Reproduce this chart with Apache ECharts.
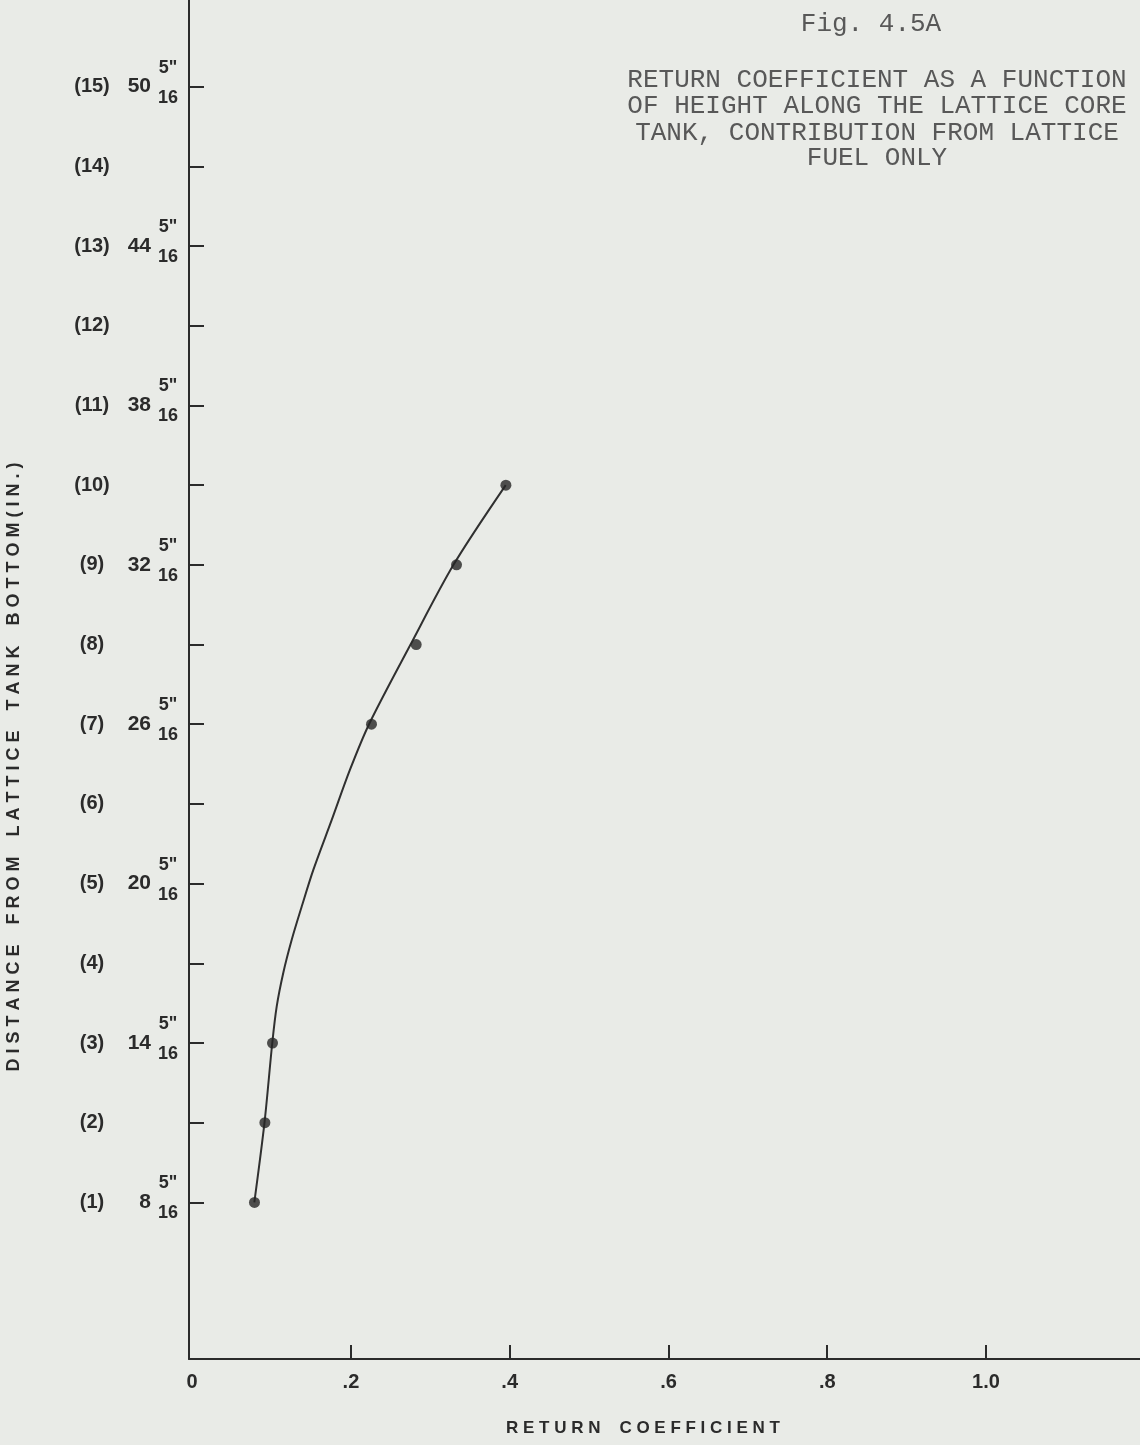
<!DOCTYPE html>
<html>
<head>
<meta charset="utf-8">
<script src="https://cdn.jsdelivr.net/npm/echarts@6/dist/echarts.min.js"></script>
<style>
html, body { margin: 0; padding: 0; background: #e9ebe7; }
#chart { width: 1140px; height: 1445px; }
</style>
</head>
<body>
<div id="chart"></div>
<script>
// ---- Tick values and labels ----
const levelHeights = [8.3125, 11.3125, 14.3125, 17.3125, 20.3125, 23.3125, 26.3125, 29.3125,
                      32.3125, 35.3125, 38.3125, 41.3125, 44.3125, 47.3125, 50.3125];
const levelLabels = ['(1)', '(2)', '(3)', '(4)', '(5)', '(6)', '(7)', '(8)',
                     '(9)', '(10)', '(11)', '(12)', '(13)', '(14)', '(15)'];
const wholeInchLabels = ['8', '', '14', '', '20', '', '26', '', '32', '', '38', '', '44', '', '50'];
const fractionNumerators = ['5"', '', '5"', '', '5"', '', '5"', '', '5"', '', '5"', '', '5"', '', '5"'];
const fractionDenominators = ['16', '', '16', '', '16', '', '16', '', '16', '', '16', '', '16', '', '16'];

const xTickValues = [0, 0.2, 0.4, 0.6, 0.8, 1.0];
const xTickLabels = ['0', '.2', '.4', '.6', '.8', '1.0'];

// ---- Measured points (height in inches, return coefficient) ----
const measuredHeight = [8.3125, 11.3125, 14.3125, 26.3125, 29.3125, 32.3125, 35.3125];
const measuredCoef   = [0.0785, 0.0916, 0.1012, 0.2259, 0.2822, 0.3330, 0.3952];

// ---- Hand-drawn fitted curve ----
const curveHeight = [8.3125, 11.3125, 14.3125, 15.69, 16.96, 18.20, 19.45, 20.83, 22.71,
                     24.60, 26.3125, 29.3125, 32.3125, 35.3125];
const curveCoef   = [0.0783, 0.0911, 0.1009, 0.1065, 0.1148, 0.1254, 0.1380, 0.1526, 0.1758,
                     0.1988, 0.2228, 0.2751, 0.3292, 0.3950];

const INK = '#2b2b2b';
const LABEL_FONT = 'Liberation Sans, Arial, sans-serif';
const TYPE_FONT = 'Liberation Mono, DejaVu Sans Mono, monospace';

function lookup(values, labels) {
  return function (v) {
    const i = values.findIndex(t => Math.abs(t - v) < 1e-6);
    return i < 0 ? '' : labels[i];
  };
}
const labelledHeights = levelHeights.filter((h, i) => wholeInchLabels[i] !== '');

const chart = echarts.init(document.getElementById('chart'), null, { renderer: 'canvas' });

const yCommon = { type: 'value', position: 'left', offset: 0, min: 2.418, max: 53.575, splitLine: { show: false } };

chart.setOption({
  backgroundColor: '#e9ebe7',
  animation: false,
  grid: { left: 189, right: 0, top: 0, bottom: 86, containLabel: false, outerBoundsMode: 'none' },
  xAxis: {
    type: 'value',
    min: -0.004,
    max: 1.194,
    axisLine: { show: true, onZero: false, lineStyle: { color: INK, width: 2 } },
    axisTick: {
      show: true, inside: true, length: 14,
      customValues: [0.2, 0.4, 0.6, 0.8, 1.0],
      lineStyle: { color: INK, width: 2 }
    },
    axisLabel: {
      customValues: xTickValues,
      formatter: lookup(xTickValues, xTickLabels),
      margin: 13,
      color: INK,
      fontSize: 20,
      fontWeight: 'bold',
      fontFamily: LABEL_FONT
    },
    splitLine: { show: false }
  },
  yAxis: [
    Object.assign({}, yCommon, {
      axisLine: { show: true, onZero: false, lineStyle: { color: INK, width: 2 } },
      axisTick: {
        show: true, inside: true, length: 15,
        customValues: levelHeights,
        lineStyle: { color: INK, width: 2 }
      },
      axisLabel: {
        customValues: levelHeights,
        formatter: lookup(levelHeights, levelLabels),
        align: 'center',
        margin: 97,
        color: INK,
        fontSize: 20,
        fontWeight: 'bold',
        fontFamily: LABEL_FONT
      }
    }),
    Object.assign({}, yCommon, {
      axisLine: { show: false, onZero: false },
      axisTick: { show: false },
      axisLabel: {
        customValues: labelledHeights,
        formatter: lookup(levelHeights, wholeInchLabels),
        align: 'right',
        margin: 38,
        color: INK,
        fontSize: 21,
        fontWeight: 'bold',
        fontFamily: LABEL_FONT
      }
    }),
    Object.assign({}, yCommon, {
      axisLine: { show: false, onZero: false },
      axisTick: { show: false },
      axisLabel: {
        customValues: labelledHeights,
        formatter: function (v) {
          const i = levelHeights.findIndex(t => Math.abs(t - v) < 1e-6);
          if (i < 0 || fractionNumerators[i] === '') return '';
          return '{n|' + fractionNumerators[i] + '}\n{d|' + fractionDenominators[i] + '}';
        },
        align: 'center',
        margin: 21,
        padding: [0, 0, 8, 0],
        rich: {
          n: { fontSize: 18, fontWeight: 'bold', fontFamily: LABEL_FONT, color: INK, lineHeight: 30, align: 'center' },
          d: { fontSize: 18, fontWeight: 'bold', fontFamily: LABEL_FONT, color: INK, lineHeight: 30, align: 'center' }
        }
      }
    })
  ],
  series: [
    {
      type: 'line',
      name: 'Fitted curve',
      data: curveCoef.map((c, i) => [c, curveHeight[i]]),
      smooth: 0.3,
      showSymbol: false,
      symbol: 'none',
      lineStyle: { color: '#303030', width: 2 },
      z: 2
    },
    {
      type: 'scatter',
      name: 'Measured',
      data: measuredCoef.map((c, i) => [c, measuredHeight[i]]),
      symbol: 'circle',
      symbolSize: 11,
      itemStyle: { color: '#262626' },
      z: 3
    }
  ],
  graphic: [
    { type: 'text', x: 871, y: 24, style: { text: 'Fig. 4.5A', font: '26px ' + TYPE_FONT, fill: '#585858', align: 'center', verticalAlign: 'middle' } },
    { type: 'text', x: 877, y: 80, style: { text: 'RETURN COEFFICIENT AS A FUNCTION', font: '26px ' + TYPE_FONT, fill: '#585858', align: 'center', verticalAlign: 'middle' } },
    { type: 'text', x: 877, y: 106.5, style: { text: 'OF HEIGHT ALONG THE LATTICE CORE', font: '26px ' + TYPE_FONT, fill: '#585858', align: 'center', verticalAlign: 'middle' } },
    { type: 'text', x: 877, y: 133, style: { text: 'TANK, CONTRIBUTION FROM LATTICE', font: '26px ' + TYPE_FONT, fill: '#585858', align: 'center', verticalAlign: 'middle' } },
    { type: 'text', x: 877, y: 158, style: { text: 'FUEL ONLY', font: '26px ' + TYPE_FONT, fill: '#585858', align: 'center', verticalAlign: 'middle' } },
    { type: 'text', x: 643, y: 1428, style: { text: 'R E T U R N    C O E F F I C I E N T', font: 'bold 17px ' + LABEL_FONT, fill: INK, align: 'center', verticalAlign: 'middle' } },
    { type: 'text', x: 14, y: 767, rotation: Math.PI / 2, style: { text: 'D I S T A N C E    F R O M    L A T T I C E    T A N K    B O T T O M ( I N . )', font: 'bold 18px ' + LABEL_FONT, fill: INK, align: 'center', verticalAlign: 'middle' } }
  ]
});
</script>
</body>
</html>
